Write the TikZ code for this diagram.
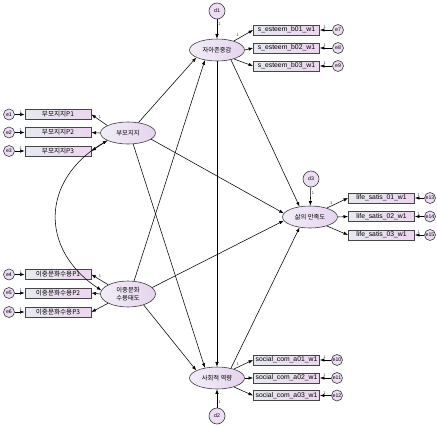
\documentclass[tikz,border=0pt]{standalone}
\usepackage{fontspec}
\setmainfont{Liberation Sans}
\newfontfamily\kr{Noto Sans CJK KR}
\usetikzlibrary{shapes.geometric,arrows.meta}
\definecolor{edgegray}{HTML}{3C3C3C}
\definecolor{boxgray}{HTML}{454545}
\definecolor{latL}{HTML}{F0EEF7}
\definecolor{latR}{HTML}{E6D3EE}
\definecolor{obsL}{HTML}{E5E9EF}
\definecolor{obsR}{HTML}{EDD5EF}
\definecolor{errfill}{HTML}{ECDDF2}
\definecolor{onecol}{HTML}{2E3A6A}
\begin{document}
\begin{tikzpicture}[x=1pt,y=-1pt,
  lat/.style={ellipse, draw=edgegray, line width=0.6pt, left color=latL, right color=latR,
    minimum width=55pt, minimum height=22pt, inner sep=0pt, align=center,
    font=\kr\fontsize{6.3}{7.5}\selectfont},
  obs/.style={rectangle, draw=boxgray, line width=0.9pt, left color=obsL, right color=obsR,
    minimum width=66pt, minimum height=10pt, inner sep=0pt, font=\fontsize{6.8}{7}\selectfont},
  obskr/.style={obs, font=\kr\fontsize{6.6}{7}\selectfont},
  err/.style={circle, draw=edgegray, line width=0.6pt, fill=errfill, minimum size=11pt,
    inner sep=0pt, font=\fontsize{5.2}{5.2}\selectfont},
  dist/.style={err, minimum size=16pt},
  arr/.style={-{Latex[length=4.5pt,width=3.4pt]}, line width=0.55pt, black},
  cov/.style={{Latex[length=4.5pt,width=3.4pt]}-{Latex[length=4.5pt,width=3.4pt]}, line width=0.55pt, black},
  one/.style={font=\fontsize{4}{4}\selectfont, text=onecol, inner sep=0pt}
]
\useasboundingbox (0,0) rectangle (437,426);

% latent variables
\node[lat] (jaon) at (217,50) {자아존중감};
\node[lat] (bumo) at (128,133) {부모지지};
\node[lat, minimum height=26pt] (ijung) at (128,294) {이중문화\\수용태도};
\node[lat] (life) at (310,217) {삶의 만족도};
\node[lat] (social) at (217,378) {사회적 역량};

% disturbances
\node[dist] (d1) at (217,11) {d1};
\node[dist] (d3) at (311,179) {d3};
\node[dist] (d2) at (217,416) {d2};

% self-esteem indicators
\node[obs] (b01) at (286.5,30) {s\_esteem\_b01\_w1};
\node[obs] (b02) at (286.5,48) {s\_esteem\_b02\_w1};
\node[obs] (b03) at (286.5,66) {s\_esteem\_b03\_w1};
\node[err] (e7) at (338,30) {e7};
\node[err] (e8) at (338,48) {e8};
\node[err] (e9) at (338,66) {e9};

% parental support indicators
\node[obskr] (p1) at (58,114.5) {부모지지P1};
\node[obskr] (p2) at (58,132.5) {부모지지P2};
\node[obskr] (p3) at (58,151) {부모지지P3};
\node[err] (e1) at (9,114.5) {e1};
\node[err] (e2) at (9,132.5) {e2};
\node[err] (e3) at (9,151) {e3};

% bicultural indicators
\node[obskr] (q1) at (58,274.5) {이중문화수용P1};
\node[obskr] (q2) at (58,293) {이중문화수용P2};
\node[obskr] (q3) at (58,312) {이중문화수용P3};
\node[err] (e4) at (9,274.5) {e4};
\node[err] (e5) at (9,293) {e5};
\node[err] (e6) at (9,312) {e6};

% life satisfaction indicators
\node[obs] (l1) at (381.5,198) {life\_satis\_01\_w1};
\node[obs] (l2) at (381.5,216.5) {life\_satis\_02\_w1};
\node[obs] (l3) at (381.5,235) {life\_satis\_03\_w1};
\node[err] (e13) at (430,198) {e13};
\node[err] (e14) at (430,216.5) {e14};
\node[err] (e15) at (430,235) {e15};

% social competence indicators
\node[obs] (s1) at (286.5,360) {social\_com\_a01\_w1};
\node[obs] (s2) at (286.5,378) {social\_com\_a02\_w1};
\node[obs] (s3) at (286.5,395.5) {social\_com\_a03\_w1};
\node[err] (e10) at (337,360) {e10};
\node[err] (e11) at (337,378) {e11};
\node[err] (e12) at (337,395.5) {e12};

% disturbance paths
\draw[arr] (d1) -- node[one, right=1pt, pos=0.25]{1} (jaon);
\draw[arr] (d3) -- node[one, right=1pt, pos=0.3]{1} (life);
\draw[arr] (d2) -- node[one, right=1pt, pos=0.3]{1} (social);

% measurement: self-esteem
\draw[arr] (jaon.28) -- node[one, above left=0.5pt, pos=0.3]{1} (b01.west);
\draw[arr] (jaon.east) -- (b02.west);
\draw[arr] (jaon.-28) -- (b03.west);
\draw[arr] (e7) -- node[one, above=1pt, pos=0.6]{1} (b01.east);
\draw[arr] (e8) -- node[one, above=1pt, pos=0.6]{1} (b02.east);
\draw[arr] (e9) -- node[one, above=1pt, pos=0.6]{1} (b03.east);

% measurement: parental support
\draw[arr] (bumo.160) -- node[one, above right=0.5pt, pos=0.6]{1} (p1.east);
\draw[arr] (bumo.west) -- (p2.east);
\draw[arr] (bumo.200) -- (p3.east);
\draw[arr] (e1) -- node[one, above=1pt, pos=0.6]{1} (p1.west);
\draw[arr] (e2) -- node[one, above=1pt, pos=0.6]{1} (p2.west);
\draw[arr] (e3) -- node[one, above=1pt, pos=0.6]{1} (p3.west);

% measurement: bicultural
\draw[arr] (ijung.155) -- node[one, above right=0.5pt, pos=0.6]{1} (q1.east);
\draw[arr] (ijung.west) -- (q2.east);
\draw[arr] (ijung.205) -- (q3.east);
\draw[arr] (e4) -- node[one, above=1pt, pos=0.6]{1} (q1.west);
\draw[arr] (e5) -- node[one, above=1pt, pos=0.6]{1} (q2.west);
\draw[arr] (e6) -- node[one, above=1pt, pos=0.6]{1} (q3.west);

% measurement: life satisfaction
\draw[arr] (life.28) -- node[one, above left=0.5pt, pos=0.3]{1} (l1.west);
\draw[arr] (life.east) -- (l2.west);
\draw[arr] (life.-28) -- (l3.west);
\draw[arr] (e13) -- node[one, above=1pt, pos=0.6]{1} (l1.east);
\draw[arr] (e14) -- node[one, above=1pt, pos=0.6]{1} (l2.east);
\draw[arr] (e15) -- node[one, above=1pt, pos=0.6]{1} (l3.east);

% measurement: social competence
\draw[arr] (social.28) -- node[one, above left=0.5pt, pos=0.3]{1} (s1.west);
\draw[arr] (social.east) -- (s2.west);
\draw[arr] (social.-28) -- (s3.west);
\draw[arr] (e10) -- node[one, above=1pt, pos=0.6]{1} (s1.east);
\draw[arr] (e11) -- node[one, above=1pt, pos=0.6]{1} (s2.east);
\draw[arr] (e12) -- node[one, above=1pt, pos=0.6]{1} (s3.east);

% structural paths
\draw[arr] (bumo.45) -- (jaon.200);
\draw[arr] (bumo.-15) -- (life.172);
\draw[arr] (bumo.-65) -- (social.140);
\draw[arr] (ijung.65) -- (jaon.220);
\draw[arr] (ijung.15) -- (life.188);
\draw[arr] (ijung.-35) -- (social.160);
\draw[arr] (jaon.325) -- (life.135);
\draw[arr] (jaon.south) -- (social.north);
\draw[arr] (social.35) -- (life.225);

% covariance
\draw[cov] (bumo.200) .. controls (40,180) and (40,250) .. (ijung.172);
\end{tikzpicture}
\end{document}
